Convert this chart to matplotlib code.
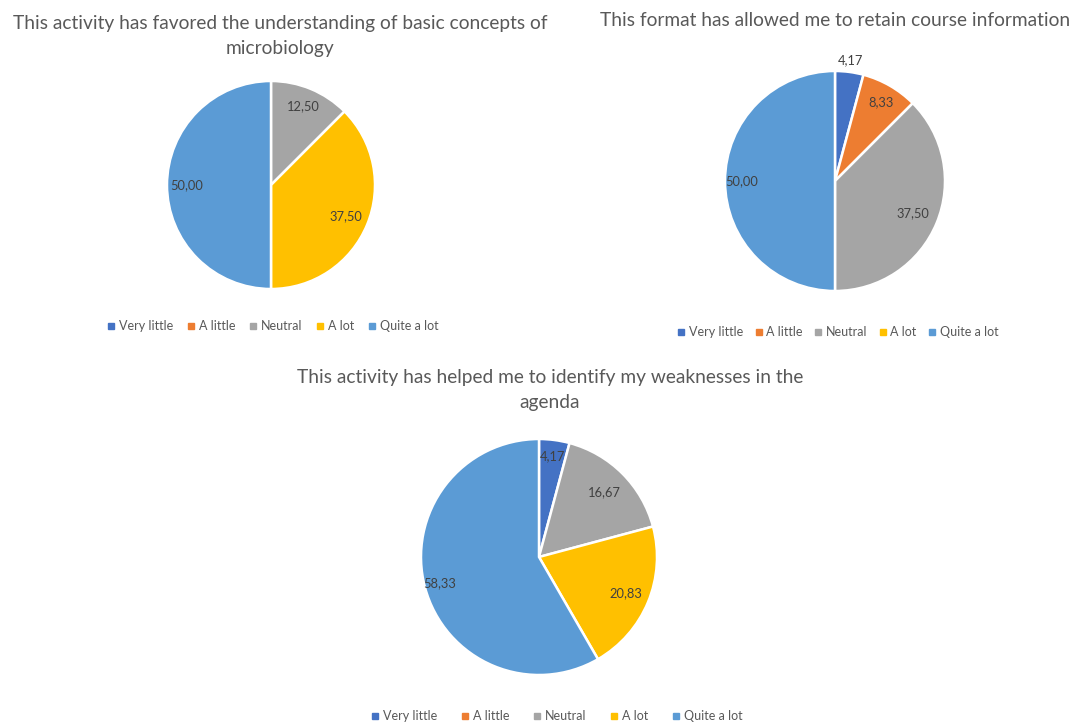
import matplotlib
matplotlib.use("Agg")
import matplotlib.pyplot as plt
from matplotlib.lines import Line2D
import numpy as np

categories = ["Very little", "A little", "Neutral", "A lot", "Quite a lot"]
colors = ["#4472C4", "#ED7D31", "#A5A5A5", "#FFC000", "#5B9BD5"]

titles = [
    "This activity has favored the understanding of basic concepts of\nmicrobiology",
    "This format has allowed me to retain course information",
    "This activity has helped me to identify my weaknesses in the\nagenda",
]
values_1 = [0.0, 0.0, 12.50, 37.50, 50.00]
values_2 = [4.17, 8.33, 37.50, 0.0, 50.00]
values_3 = [4.17, 0.0, 16.67, 20.83, 58.33]

W, H = 1076, 722
plt.rcParams['font.family'] = ['Lato', 'DejaVu Sans']
fig = plt.figure(figsize=(W / 100, H / 100), dpi=100)

def px_axes(cx, cy, r):
    return fig.add_axes([(cx - r) / W, 1 - (cy + r) / H, 2 * r / W, 2 * r / H])

layouts = [
    dict(cx=271, cy=185, r=104, tx=280, ty=36, lx=273, ly=326, cs=1.15,
         ld={2: 0.82, 3: 0.78, 4: 0.81}),
    dict(cx=835, cy=181, r=110, tx=835, ty=21, lx=838, ly=332, cs=0.95,
         ld={0: 1.11, 1: 0.83, 2: 0.77, 4: 0.85}),
    dict(cx=539, cy=557, r=118, tx=550, ty=390, lx=557, ly=716, cs=1.95,
         ld={0: 0.86, 2: 0.78, 3: 0.8, 4: 0.87}),
]
all_values = [values_1, values_2, values_3]

for vals, title, L in zip(all_values, titles, layouts):
    ax = px_axes(L['cx'], L['cy'], L['r'])
    idx = [i for i, v in enumerate(vals) if v > 0]
    wedges, _ = ax.pie([vals[i] for i in idx], colors=[colors[i] for i in idx],
                       startangle=90, counterclock=False, radius=1,
                       wedgeprops=dict(edgecolor="white", linewidth=1.8))
    ax.set_xlim(-1, 1)
    ax.set_ylim(-1, 1)
    ax.set_aspect('equal')
    ax.axis('off')
    for w, i in zip(wedges, idx):
        ang = np.deg2rad((w.theta1 + w.theta2) / 2)
        d = L['ld'].get(i, 0.8)
        ax.text(d * np.cos(ang), d * np.sin(ang), f"{vals[i]:.2f}".replace('.', ','),
                ha='center', va='center', fontsize=9.3, color="#404040")
    fig.text(L['tx'] / W, 1 - L['ty'] / H, title, ha='center', va='center',
             fontsize=13.8, color="#595959", linespacing=1.55)
    handles = [Line2D([0], [0], marker='s', linestyle='none', markersize=5,
                      markerfacecolor=c, markeredgecolor=c) for c in colors]
    fig.legend(handles, categories, loc='center', ncol=5,
               bbox_to_anchor=(L['lx'] / W, 1 - L['ly'] / H), frameon=False,
               fontsize=9, labelcolor="#595959", handlelength=0.6,
               handletextpad=0.3, columnspacing=L['cs'], borderpad=0)

fig.savefig("out.png", dpi=100, facecolor="white")
